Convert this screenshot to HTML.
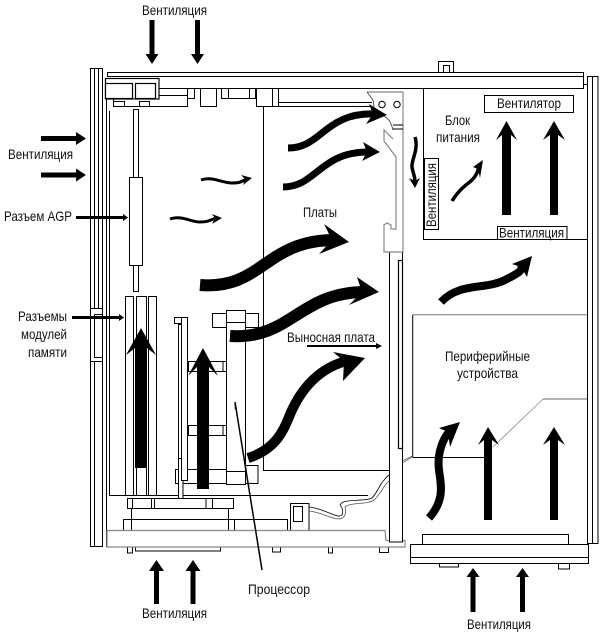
<!DOCTYPE html>
<html><head><meta charset="utf-8"><style>
html,body{margin:0;padding:0;background:#fff;width:603px;height:635px;overflow:hidden}
svg{display:block}
text{font-family:"Liberation Sans",sans-serif;font-size:14px;fill:#111}
.l rect,.l path,.l circle,.l line{fill:#fff;stroke:#000;stroke-width:1}
.l .n{fill:none}
.g{fill:none;stroke:#888;stroke-width:1.2}
.t{fill:none;stroke:#000;stroke-linecap:butt}
</style></head><body>
<svg width="603" height="635" viewBox="0 0 603 635" xmlns="http://www.w3.org/2000/svg">
<g class="l">
<!-- left rails -->
<rect x="90.5" y="68.5" width="12" height="478"/>
<line x1="94.5" y1="68.5" x2="94.5" y2="546.5"/>
<line x1="98.5" y1="68.5" x2="98.5" y2="308"/>
<rect x="90.5" y="308.5" width="12" height="53"/>
<rect x="94.5" y="314.5" width="8" height="43"/>
<line x1="106.5" y1="78" x2="106.5" y2="547"/>
<line x1="109.5" y1="111" x2="109.5" y2="495"/>
<line x1="109" y1="495.5" x2="368" y2="495.5"/>
<!-- top -->
<path d="M107.5 76.5V72.5H583.5V88.5H107.5" class="n"/>
<line x1="107" y1="76.5" x2="583" y2="76.5"/>
<path d="M583.5 84.5H587" class="n"/>
<path d="M438.5 72V61.5H453.5V72" class="n"/>
<path d="M443.5 72V65.5H449.5V72" class="n"/>
<rect x="113.5" y="95.5" width="74" height="11"/>
<rect x="113.5" y="101.5" width="11" height="5"/>
<rect x="139.5" y="101.5" width="10" height="5"/>
<line x1="159" y1="88.5" x2="187" y2="88.5"/>
<rect x="187.5" y="88.5" width="7" height="10"/>
<rect x="200.5" y="88.5" width="16" height="18"/>
<rect x="221.5" y="88.5" width="34" height="10"/>
<line x1="228.5" y1="88.5" x2="228.5" y2="98"/>
<line x1="249.5" y1="88.5" x2="249.5" y2="98"/>
<rect x="256.5" y="88.5" width="22" height="18"/>
<line x1="272.5" y1="88.5" x2="272.5" y2="106"/>
<path d="M278 102.5H372M278 106.5H372" class="n"/>
<rect x="105.5" y="78.5" width="53.5" height="20.5" style="stroke-width:1.2"/>
<rect x="105.5" y="83.5" width="27" height="15" style="stroke-width:1.2"/>
<rect x="135.5" y="83.5" width="20" height="15" style="stroke-width:1.2"/>
<!-- board outline -->
<path d="M263.5 106V470.5H389" class="n"/>
<!-- AGP -->
<rect x="133.5" y="109.5" width="5" height="182"/>
<rect x="129.5" y="177.5" width="13" height="88"/>
<!-- memory -->
<rect x="125.5" y="296.5" width="8" height="199"/>
<rect x="136.5" y="296.5" width="10" height="199"/>
<rect x="148.5" y="296.5" width="8" height="199"/>
<!-- cpu mounts -->
<rect x="188.5" y="361.5" width="38" height="10"/>
<line x1="223" y1="361.5" x2="223" y2="371"/>
<rect x="188.5" y="425.5" width="38" height="10"/>
<line x1="223" y1="425.5" x2="223" y2="435"/>
<rect x="175.5" y="469.5" width="51" height="14"/>
<rect x="212.5" y="313.5" width="46" height="14"/>
<rect x="244.5" y="465.5" width="13.5" height="18"/>
<rect x="226.5" y="310.5" width="19" height="174"/>
<line x1="226.5" y1="322.5" x2="245" y2="322.5"/>
<line x1="226.5" y1="471.5" x2="245" y2="471.5"/>
<!-- riser -->
<rect x="178.5" y="324.5" width="4" height="134"/>
<rect x="178.5" y="458.5" width="4.5" height="41"/>
<path d="M181.5 317V480.5H187.5V317.5H174.5V323.500H182" />
<!-- bottom -->
<rect x="123.5" y="519.5" width="164" height="11"/>
<line x1="228.5" y1="519" x2="228.5" y2="530"/><line x1="234.5" y1="519" x2="234.5" y2="530"/><line x1="131.5" y1="519" x2="131.5" y2="530"/>
<rect x="131.5" y="508.5" width="97" height="11"/>
<rect x="127.5" y="498.5" width="106" height="10"/>
<path d="M132.5 498.5V508M151.5 498.5V508M154.5 498.5V508M206 498.5V508M212.5 498.5V508" class="n"/>
<rect x="290.5" y="503.5" width="18.5" height="27"/>
<rect x="293.5" y="506.5" width="9" height="15"/>
<rect x="127.5" y="547" width="5" height="6"/>
<rect x="135.5" y="547" width="85" height="4"/>
<rect x="272.5" y="547" width="8" height="5"/>
<rect x="328.5" y="547" width="4" height="6"/>
<rect x="379.5" y="547" width="9" height="5.5"/>
</g>
<path d="M107 530.5H385L386 540.5H405V547H107Z" fill="#fff" stroke="#888" stroke-width="1.2"/>
<!-- cables -->
<path d="M309 507C320 508 330 514 338 516C345 517 343 508 340 505C342 498 365 502 372 498C378 492 380 482 389 475" fill="none" stroke="#000" stroke-width="0.8"/>
<path d="M309 511C320 512 330 518 338 519C347 519 346 510 345 507C350 502 367 505 374 500C381 494 383 486 389 481" fill="none" stroke="#555" stroke-width="0.8"/>
<path d="M402 463L412.5 457M402 461L412.5 456" fill="none" stroke="#666" stroke-width="0.8"/>
<!-- riser bar -->
<g class="l">
<rect x="389.5" y="252" width="13" height="290"/>
<rect x="398.5" y="260.5" width="4" height="188" style="stroke-width:1.2"/>
</g>
<!-- gray bracket -->
<path d="M367 92H403V252H384V225L387 223L391 225V229H396V157L384 141V130L393 139" fill="#fff" stroke="#888" stroke-width="1.2"/>
<path d="M367 92L373 100C375 110 374 118 378 114C388 116 391 122 393 130" fill="#fff" stroke="#333" stroke-width="0.8"/>
<path d="M393 125H403M393 129H403" stroke="#000" fill="none"/>
<circle cx="382" cy="104.5" r="3.2" fill="#fff" stroke="#000"/>
<circle cx="397" cy="104.5" r="3.2" fill="#fff" stroke="#000"/>
<!-- right section -->
<g class="l">
<path d="M423.5 88V239.5H587" class="n"/>
<rect x="587.5" y="76.5" width="10.5" height="467"/>
<line x1="592.5" y1="76.5" x2="592.5" y2="543"/>
<rect x="484.5" y="95.5" width="89" height="17"/>
<rect x="424.5" y="158.5" width="14" height="71"/>
<rect x="497.5" y="226.5" width="69.5" height="13"/>
<path d="M412.7 457V315" class="n"/>
<path d="M412.7 457.5H485" class="n"/>
<rect x="422.5" y="534.5" width="146" height="10"/>
<rect x="439.5" y="563" width="19" height="4"/>
<rect x="558.5" y="563" width="11" height="6"/>
<rect x="410.5" y="544.5" width="178" height="19"/>
<line x1="410.5" y1="557.5" x2="588" y2="557.5"/>
</g>
<path d="M412.7 314.7H587" class="g"/>
<path d="M493 447L543 399" class="g" style="stroke-width:.8"/>
<path d="M543 399H587" class="g"/>
<!-- thin arrows -->
<g fill="#000" stroke="none">
<path d="M149.500 20h5v34h4l-6.500 10-6.500-10h4zM195 20h5v34h4l-6.500 10-6.500-10h4z"/>
<path d="M41 136h35v-4l10 6.500-10 6.500v-4H41zM41 172.500h35v-4l10 6.500-10 6.500v-4H41z"/>
<path d="M76 216h47v-2l5 3.500-5 3.500v-2H76zM72 316h47v-2l5 3.500-5 3.500v-2H72z"/>
<path d="M307 345h69v-2l6 3-6 3v-2h-69z"/>
<path d="M154 604v-33h-5l7.500-11 7.500 11h-5v33zM190.500 604v-33h-5l7.500-11 7.500 11h-5v33z"/>
<path d="M470.500 612v-35h-4l6.500-9 6.500 9h-4v35zM520 612v-35h-4l6.500-9 6.500 9h-4v35z"/>
<path d="M234.500 402l1.500 7-1.200.1z"/>
</g>
<line x1="235" y1="402" x2="262" y2="570" stroke="#000" stroke-width="1.500"/>
<!-- curved arrows -->
<path class="t" stroke-width="7" d="M288 148C322 148 325 112 375 114"/>
<path fill="#000" d="M387 115L369 104L373 114L366 124Z"/>
<path class="t" stroke-width="7" d="M283 187C316 187 320 152 368 152"/>
<path fill="#000" d="M380 152L363 142L367 152L362 161Z"/>
<path class="t" stroke-width="3" d="M201 180C212 176 222 183 232 183S241 181 247 179"/>
<path fill="#000" d="M252 178L241 175L245 179L243 185Z"/>
<path class="t" stroke-width="3" d="M170 219C181 215 191 222 200 222S210 220 216 218"/>
<path fill="#000" d="M222 218L212 214L215 218L212 224Z"/>
<path class="t" stroke-width="12" d="M200 285C262 290 265 240 335 240"/>
<path fill="#000" d="M349 242L324 224L332 240L319 254Z"/>
<path class="t" stroke-width="12" d="M230 336C290 340 300 292 365 292"/>
<path fill="#000" d="M379 292L357 277L362 292L349 305Z"/>
<path class="t" stroke-width="10" d="M248 458C280 448 285 425 292 410S315 368 350 360"/>
<path fill="#000" d="M365 358L333 352L344 361L343 381Z"/>
<path class="t" stroke-width="3.500" d="M452 201C460 188 468 184 472 180S478 172 479 165"/>
<path fill="#000" d="M483 160L473 167L478 169L480 178Z"/>
<path class="t" stroke-width="3.500" d="M415 137C419 150 411 160 412 167S415 175 415 182"/>
<path fill="#000" d="M415 188L409 178L415 181L420 178Z"/>
<path class="t" stroke-width="8" d="M441 302C460 282 485 290 505 280S520 270 522 266"/>
<path fill="#000" d="M532 256L512 264L521 267L527 277Z"/>
<path class="t" stroke-width="8" d="M429 518C445 500 441 485 439 470S442 440 449 432"/>
<path fill="#000" d="M460 422L439 428L448 432L450 447Z"/>
<!-- vertical arrows -->
<path fill="#000" d="M135 468V348L126 355L141 328L156 355L147 348V468Z"/>
<path fill="#000" d="M197 489V367L188 376L203 348L218 376L209 367V489Z"/>
<path fill="#000" d="M502 215V135L496 140L506.500 121L517 140L511 135V215Z"/>
<path fill="#000" d="M550 215V135L543 140L554 121L565 140L558 135V215Z"/>
<path fill="#000" d="M484 520V440L478 445L488 427L499 445L492 440V520Z"/>
<path fill="#000" d="M550 520V440L543 445L554 427L565 445L558 440V520Z"/>
<!-- text -->
<g>
<text x="142" y="15" textLength="65" lengthAdjust="spacingAndGlyphs">Вентиляция</text>
<text x="8" y="159" textLength="65" lengthAdjust="spacingAndGlyphs">Вентиляция</text>
<text x="4" y="221" textLength="68" lengthAdjust="spacingAndGlyphs">Разъем AGP</text>
<text x="18" y="321" textLength="49" lengthAdjust="spacingAndGlyphs">Разъемы</text>
<text x="21" y="339" textLength="46" lengthAdjust="spacingAndGlyphs">модулей</text>
<text x="28" y="357" textLength="39" lengthAdjust="spacingAndGlyphs">памяти</text>
<text x="303" y="217" textLength="34" lengthAdjust="spacingAndGlyphs">Платы</text>
<text x="287" y="342" textLength="88" lengthAdjust="spacingAndGlyphs">Выносная плата</text>
<text x="445" y="125" textLength="25" lengthAdjust="spacingAndGlyphs">Блок</text>
<text x="436" y="142" textLength="44" lengthAdjust="spacingAndGlyphs">питания</text>
<text x="497" y="108" textLength="64" lengthAdjust="spacingAndGlyphs">Вентилятор</text>
<text x="499" y="237.500" textLength="65" lengthAdjust="spacingAndGlyphs">Вентиляция</text>
<text transform="translate(436 227) rotate(-90)" textLength="64" lengthAdjust="spacingAndGlyphs">Вентиляция</text>
<text x="445" y="361" textLength="85" lengthAdjust="spacingAndGlyphs">Периферийные</text>
<text x="457" y="378" textLength="61" lengthAdjust="spacingAndGlyphs">устройства</text>
<text x="248" y="594" textLength="62" lengthAdjust="spacingAndGlyphs">Процессор</text>
<text x="142" y="618" textLength="65" lengthAdjust="spacingAndGlyphs">Вентиляция</text>
<text x="467" y="629" textLength="64" lengthAdjust="spacingAndGlyphs">Вентиляция</text>
</g>
</svg>
</body></html>
